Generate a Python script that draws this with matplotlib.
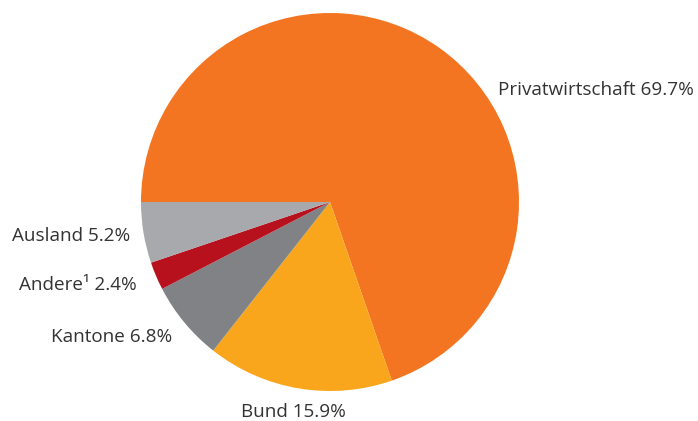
import matplotlib
matplotlib.use('agg')
import matplotlib.pyplot as plt

labels = ['Privatwirtschaft', 'Bund', 'Kantone', 'Andere\u00b9', 'Ausland']
shares = [69.7, 15.9, 6.8, 2.4, 5.2]
colors = ['#F47521', '#F9A61C', '#808285', '#B8111E', '#A7A9AC']

plt.rcParams['font.family'] = ['Open Sans', 'DejaVu Sans']

W, H = 698, 421
fig = plt.figure(figsize=(W / 100, H / 100), dpi=100)

# pie centre (330, 202) px, radius 189 px
cx, cy, r = 330, 202, 189
ax = fig.add_axes([(cx - r) / W, (H - cy - r) / H, 2 * r / W, 2 * r / H])
ax.pie(shares, colors=colors, startangle=180, counterclock=False,
       radius=1, wedgeprops=dict(linewidth=0))
ax.set_xlim(-1, 1)
ax.set_ylim(-1, 1)
ax.set_aspect('equal')
ax.axis('off')

# label anchor points in pixels (x, y, ha)
label_pos = [(498, 90, 'left'), (293, 412, 'center'), (172, 337, 'right'),
             (137, 285, 'right'), (130, 236, 'right')]

for lab, val, (x, y, ha) in zip(labels, shares, label_pos):
    fig.text(x / W, 1 - y / H, '%s %.1f%%' % (lab, val), ha=ha, va='center',
             fontsize=13.6, color='#333333')

plt.savefig('out.png', dpi=100)
